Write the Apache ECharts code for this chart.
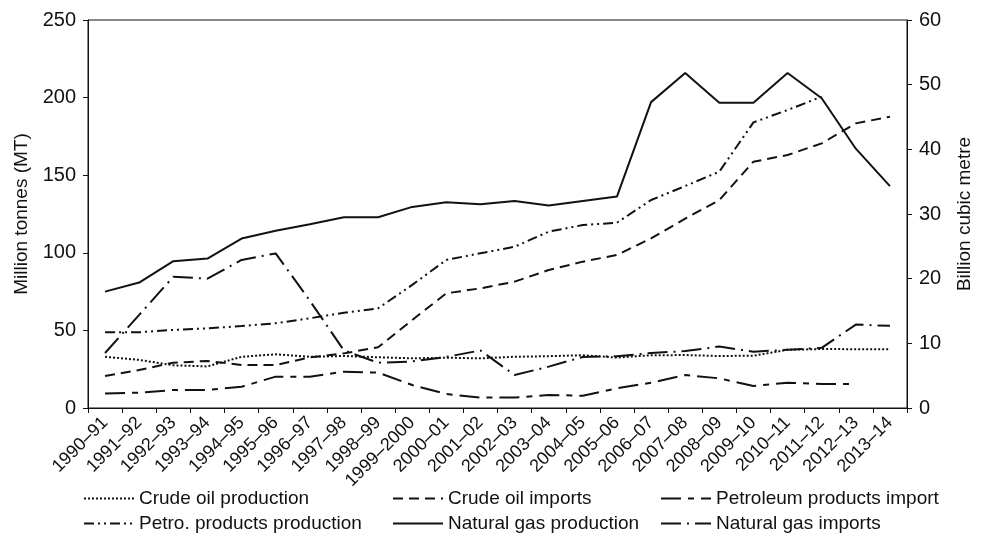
<!DOCTYPE html>
<html lang="en">
<head>
    <meta charset="UTF-8">
    <title>oil and gas chart</title>
    <script type="text/javascript" src="https://cdn.jsdelivr.net/npm/echarts@6/dist/echarts.min.js"></script>
    <style>
        html, body { margin: 0; padding: 0; background: #fff; }
    </style>
</head>
<body>
  <div id="main" style="width: 982px;height: 545px;"></div>
</body>
<script>
    // categories (financial years)
    var years = ['1990–91', '1991–92', '1992–93', '1993–94', '1994–95', '1995–96', '1996–97', '1997–98',
        '1998–99', '1999–2000', '2000–01', '2001–02', '2002–03', '2003–04', '2004–05', '2005–06',
        '2006–07', '2007–08', '2008–09', '2009–10', '2010–11', '2011–12', '2012–13', '2013–14'];

    // million tonnes (left axis)
    var crudeProd = [33, 31, 27.5, 26.8, 33, 34.6, 33, 33.5, 32.7, 32, 32.4, 32, 33, 33.4, 34, 32.5,
        34, 34.1, 33.5, 33.7, 37.5, 38, 37.9, 37.8];
    var crudeImp = [20.6, 24.5, 29.2, 30.3, 27.7, 27.7, 32.6, 35.2, 39.1, 56.7, 73.9, 77.1, 81.4, 88.9, 94.3, 98.6,
        109.3, 122, 134, 158.7, 163, 170.5, 183.4, 187.7];
    var productsImp = [9.4, 9.9, 11.6, 11.6, 13.7, 20.2, 20.2, 23.4, 22.8, 14.8, 9.0, 6.7, 6.7, 8.4, 7.9, 12.7,
        16.3, 21.3, 19.1, 14.2, 16.3, 15.5, 15.5, null];
    var productsProd = [48.8, 48.8, 50.3, 51.3, 52.8, 54.6, 57.8, 61.4, 64.2, 79.3, 95.4, 99.7, 103.9, 113.6, 117.9, 119.4,
        134, 143, 152.3, 184, 192, 200.6, null, null];

    // billion cubic metre (right axis)
    var gasProd = [18.0, 19.4, 22.7, 23.1, 26.2, 27.4, 28.4, 29.5, 29.5, 31.1, 31.8, 31.5, 32.0, 31.3, 32.0, 32.7,
        47.3, 51.8, 47.2, 47.2, 51.8, 47.9, 40.1, 34.3];
    var gasImp = [8.5, 14.4, 20.3, 20.0, 22.9, 23.9, 16.6, 8.9, 7.0, 7.2, 7.9, 8.9, 5.1, 6.4, 7.9, 8.0,
        8.5, 8.8, 9.5, 8.7, 9.0, 9.3, 12.9, 12.7];

    var leftTicks = [0, 50, 100, 150, 200, 250];
    var rightTicks = [0, 10, 20, 30, 40, 50, 60];

    var font = '"Liberation Sans Narrow", "Liberation Sans", sans-serif';
    var ink = '#111';

    var myChart = echarts.init(document.getElementById('main'));

    // one line series
    function line(name, data, axis, dash) {
        return {
            name: name,
            type: 'line',
            yAxisIndex: axis,
            data: data,
            symbol: 'none',
            connectNulls: false,
            silent: true,
            lineStyle: { color: ink, width: 2, type: dash },
            itemStyle: { color: ink }
        };
    }

    // legend in two rows of three, one legend per item so the columns line up
    function legendItem(name, left, top, w) {
        return {
            data: [name],
            left: left,
            top: top,
            padding: 0,
            itemWidth: w,
            itemHeight: 12,
            selectedMode: false,
            itemStyle: { opacity: 0, borderWidth: 0, color: 'rgba(0,0,0,0)' },
            textStyle: { fontFamily: font, fontSize: 19, color: ink }
        };
    }

    var option = {
        animation: false,
        textStyle: { fontFamily: font },
        grid: {
            left: 88, right: 72, top: 20, bottom: 137,
            show: true, borderColor: ink, borderWidth: 1
        },
        legend: [
            legendItem('Crude oil production', 83, 489, 50),
            legendItem('Crude oil imports', 392, 489, 50),
            legendItem('Petroleum products import', 660, 489, 50),
            legendItem('Petro. products production', 83, 514, 50),
            legendItem('Natural gas production', 392, 514, 50),
            legendItem('Natural gas imports', 660, 514, 50)
        ],
        xAxis: {
            type: 'category',
            data: years,
            boundaryGap: true,
            axisLine: { lineStyle: { color: ink, width: 1 } },
            axisTick: { show: true, length: 5, lineStyle: { color: ink } },
            axisLabel: { interval: 0, rotate: 45, fontSize: 18, color: ink, fontFamily: font, margin: 12 }
        },
        yAxis: [{
            type: 'value',
            min: leftTicks[0],
            max: leftTicks[leftTicks.length - 1],
            interval: 50,
            name: 'Million tonnes (MT)',
            nameLocation: 'middle',
            nameRotate: 90,
            nameGap: 57,
            nameTextStyle: { fontSize: 19, color: ink, fontFamily: font },
            axisLine: { show: true, lineStyle: { color: ink } },
            axisTick: { show: true, length: 5, lineStyle: { color: ink } },
            axisLabel: { fontSize: 20, color: ink, fontFamily: font, margin: 12 },
            splitLine: { show: false }
        }, {
            type: 'value',
            position: 'right',
            min: rightTicks[0],
            max: rightTicks[rightTicks.length - 1],
            interval: 10,
            name: 'Billion cubic metre',
            nameLocation: 'middle',
            nameRotate: 90,
            nameGap: 48,
            nameTextStyle: { fontSize: 19, color: ink, fontFamily: font },
            axisLine: { show: true, lineStyle: { color: ink } },
            axisTick: { show: true, length: 5, lineStyle: { color: ink } },
            axisLabel: { fontSize: 20, color: ink, fontFamily: font, margin: 12 },
            splitLine: { show: false }
        }],
        series: [
            line('Crude oil production', crudeProd, 0, [2, 2]),
            line('Crude oil imports', crudeImp, 0, [10, 6]),
            line('Petroleum products import', productsImp, 0, [20, 7, 6, 7]),
            line('Petro. products production', productsProd, 0, [10, 4, 2, 4, 2, 4]),
            line('Natural gas production', gasProd, 1, 'solid'),
            line('Natural gas imports', gasImp, 1, [20, 6, 2, 6])
        ]
    };

    myChart.setOption(option);
</script>
</html>
